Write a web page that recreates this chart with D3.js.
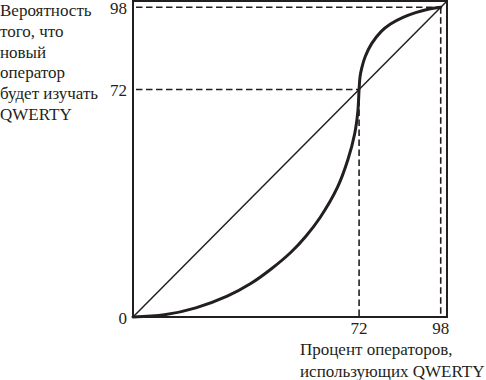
<!DOCTYPE html>
<html><head><meta charset="utf-8">
<script src="https://cdn.jsdelivr.net/npm/d3@7"></script>
<style>body{margin:0;background:#fff}svg{display:block}text{font-family:"Liberation Serif","DejaVu Serif",serif;fill:#231f20}</style>
</head><body>
<script>
// S-curve: probability a new operator learns QWERTY vs share using QWERTY
const curveX = [0, 10, 20, 30, 37.5, 44, 50.3, 55, 59.6, 65.1, 68.5, 70.6, 71.6, 72, 72.3, 72.9, 74, 76, 79, 82, 86, 90, 94, 98];
const curveY = [0, 0.7, 2.9, 6.6, 10.6, 15.2, 20.5, 25.5, 31.5, 41, 50, 58, 65, 72, 76, 79, 82.5, 86.5, 90.3, 92.7, 94.8, 96.3, 97.4, 98];
const diagonal = [0, 100];
const refValues = [72, 98];
const xTicks = [72, 98];
const yTicks = [0, 72, 98];
const yTitle = ["Вероятность", "того, что", "новый", "оператор", "будет изучать", "QWERTY"];
const xTitle = ["Процент операторов,", "использующих QWERTY"];

const W = 486, H = 380;
const svg = d3.select("body").append("svg").attr("width", W).attr("height", H);
const x = d3.scaleLinear().domain([0, 100]).range([133, 447]);
const y = d3.scaleLinear().domain([0, 100]).range([317, 1]);
const ink = "#231f20";

// frame
svg.append("rect").attr("x", x(0)).attr("y", y(100))
  .attr("width", x(100) - x(0)).attr("height", y(0) - y(100))
  .attr("fill", "none").attr("stroke", ink).attr("stroke-width", 2);

// dashed reference lines
refValues.forEach(v => {
  svg.append("line").attr("x1", x(0) + 3).attr("x2", x(v)).attr("y1", y(v)).attr("y2", y(v))
    .attr("stroke", ink).attr("stroke-width", 1.6).attr("stroke-dasharray", "6.5,3.5");
  svg.append("line").attr("x1", x(v)).attr("x2", x(v)).attr("y1", y(v)).attr("y2", y(0))
    .attr("stroke", ink).attr("stroke-width", 1.6).attr("stroke-dasharray", "6.5,3.5");
});

// diagonal
svg.append("line").attr("x1", x(diagonal[0])).attr("y1", y(diagonal[0]))
  .attr("x2", x(diagonal[1])).attr("y2", y(diagonal[1]))
  .attr("stroke", ink).attr("stroke-width", 1.5);

// S curve
const pts = curveX.map((v, i) => [v, curveY[i]]);
svg.append("path").datum(pts)
  .attr("d", d3.line().x(d => x(d[0])).y(d => y(d[1])).curve(d3.curveCatmullRom.alpha(0.5)))
  .attr("fill", "none").attr("stroke", ink).attr("stroke-width", 3).attr("stroke-linecap", "round");

// tick labels
svg.selectAll(".yt").data(yTicks).join("text")
  .attr("x", 127).attr("y", d => y(d) + 7).attr("text-anchor", "end")
  .attr("font-size", 17).text(d => d);
svg.selectAll(".xt").data(xTicks).join("text")
  .attr("x", d => x(d)).attr("y", 334).attr("text-anchor", "middle")
  .attr("font-size", 17).text(d => d);

// titles
svg.selectAll(".ytl").data(yTitle).join("text")
  .attr("x", 0).attr("y", (d, i) => 16 + i * 20.8)
  .attr("font-size", 17).text(d => d);
svg.selectAll(".xtl").data(xTitle).join("text")
  .attr("x", 300).attr("y", (d, i) => 355 + i * 21.5)
  .attr("font-size", 17).text(d => d);
</script>
</body></html>
